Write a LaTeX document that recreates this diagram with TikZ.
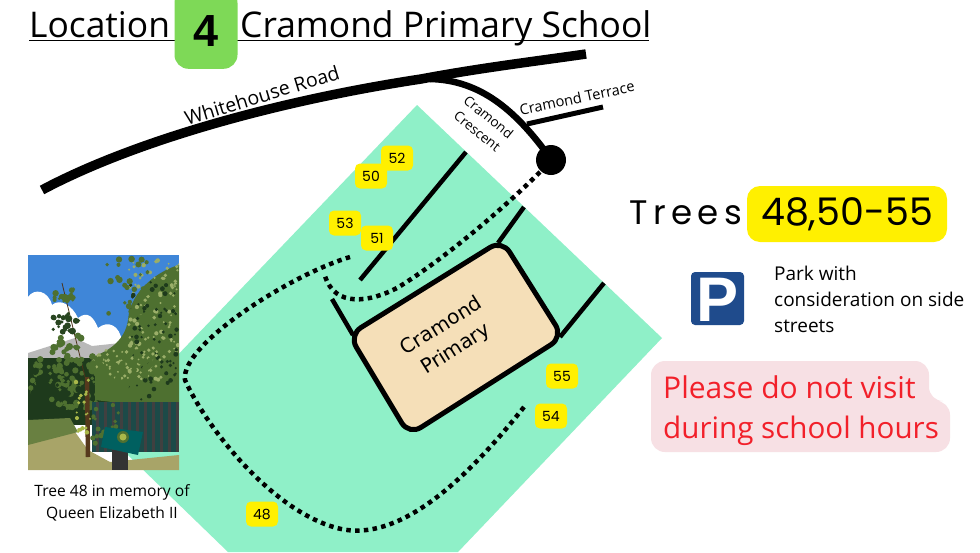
\documentclass[tikz,border=0pt]{standalone}
\usepackage{fontspec}
\setmainfont{Open Sans}
\newfontfamily\pop{Poppins}
\newfontfamily\djv{DejaVu Sans}
\newfontfamily\libs{Liberation Sans}
\definecolor{mint}{HTML}{8FF0C8}
\definecolor{ylw}{HTML}{FFF000}
\definecolor{grn}{HTML}{7ED957}
\definecolor{tan1}{HTML}{F5DFB8}
\definecolor{pinkb}{HTML}{F7E0E4}
\definecolor{redt}{HTML}{F2202A}
\definecolor{pblue}{HTML}{1F4B8C}
\definecolor{sky}{HTML}{3F86D8}
\definecolor{leafd}{HTML}{1E3A1C}
\definecolor{leafm}{HTML}{4E7030}
\definecolor{leafl}{HTML}{9AAE68}
\definecolor{leafy}{HTML}{A9B84A}
\definecolor{grass}{HTML}{A8A468}
\definecolor{fence}{HTML}{1C4A48}
\tikzset{
 road/.style={line width=#1,line cap=butt,line join=round,draw=black},
 wall/.style={line width=4.5pt,draw=black,line cap=butt},
 dots/.style={line width=4.5pt,draw=black,dash pattern=on 4.5pt off 4.3pt,line cap=butt},
 tag/.style={fill=ylw,rounded corners=5pt,minimum width=32pt,minimum height=25pt,inner sep=0pt,font=\pop\fontsize{14}{14}\selectfont},
 lbl/.style={inner sep=0pt,font=\fontsize{#1}{#1}\selectfont,text=black},
}
% n blobs of colour c and size s scattered over the box x y w h
\newcommand{\leafscatter}[7]{%
 \foreach \k in {1,...,#1}{%
  \pgfmathsetmacro{\bx}{#2+rnd*#4}%
  \pgfmathsetmacro{\by}{#3+rnd*#5}%
  \pgfmathsetmacro{\br}{#7*(0.6+0.8*rnd)}%
  \fill[#6] (\bx,\by) circle[radius=\br pt];
 }}
\begin{document}
\begin{tikzpicture}[x=1pt,y=-1pt]
\useasboundingbox (0,0) rectangle (980,552);
\fill[white] (0,0) rectangle (980,552);
% park
\fill[mint] (417,105) -- (662,338) -- (458,552) -- (228,552) -- (104,432) -- cycle;
% title
\node[lbl=35.4,anchor=base west] (t1) at (29,37) {Location};
\node[lbl=35.4,anchor=base west] (t2) at (240,37) {Cramond Primary School};
\draw[line width=1.8pt] (29,40.5) -- (649,40.5);
\node[fill=grn,rounded corners=14pt,minimum width=63pt,minimum height=80pt,inner sep=0,anchor=south] (four) at (206,69) {};
\node[inner sep=0,font=\libs\bfseries\fontsize{45}{45}\selectfont] (fourt) at (206,31) {4};
% roads
\draw[road=9.5pt] (42,190) .. controls (130,143) and (270,102) .. (421,79) .. controls (480,68) and (530,62) .. (586,54);
\draw[road=6.5pt] (430,79) .. controls (480,80) and (515,110) .. (548,155);
\draw[road=5pt] (527,124) -- (603,107);
\node[fill=black,circle,minimum size=30pt,inner sep=0] (end) at (551,160) {};
\node[lbl=19.5,rotate=17] (wr) at (262,95) {Whitehouse Road};
\node[lbl=14.6,rotate=12] (ct) at (577,98) {Cramond Terrace};
\node[rotate=-39,align=center,inner sep=0,font=\fontsize{13.5}{18}\selectfont] (cc) at (483,124) {Cramond\\Crescent};
% side walls
\draw[wall] (466,152) -- (360,280);
\draw[wall] (332,299) -- (353,335);
\draw[wall] (498,243) -- (524,207);
\draw[wall] (560,337) -- (604,283);
% building
\draw[fill=tan1,draw=black,line width=5pt,rounded corners=14pt] (349,335) -- (502,240) -- (563,337) -- (409,435) -- cycle;
\node[inner sep=0,rotate=32,align=center,font=\djv\fontsize{20}{27}\selectfont] (bld) at (449,338) {Cramond\\Primary};
% dotted paths
\draw[dots] (540,172) .. controls (500,212) and (440,262) .. (397,288) .. controls (370,302) and (335,308) .. (325,276);
\draw[dots] (350,257) .. controls (290,275) and (180,345) .. (185,380) .. controls (205,425) and (270,510) .. (337,528) .. controls (400,545) and (470,475) .. (524,407);
% tags
\node[tag] (t52) at (397,158) {52};
\node[tag] (t50) at (371,176) {50};
\node[tag] (t53) at (345,223) {53};
\node[tag] (t51) at (377,238) {51};
\node[tag] (t55) at (562,376) {55};
\node[tag] (t54) at (551,416) {54};
\node[tag] (t48) at (262,514) {48};
% photo
\begin{scope}
\clip (28,255) rectangle (179,470);
\pgfmathsetseed{17}
\fill[sky] (28,255) rectangle (179,360);
\fill[white] (28,355) -- (28,297) .. controls (34,288) and (48,290) .. (52,305) .. controls (60,298) and (72,305) .. (78,318) .. controls (88,310) and (94,318) .. (98,328) .. controls (108,320) and (120,325) .. (122,342) -- (122,355) -- cycle;
\fill[gray!55] (28,353) -- (75,338) -- (92,346) -- (130,342) -- (130,362) -- (28,362) -- cycle;
\fill[leafd] (28,358) rectangle (179,425);
% right tree
\fill[leafm] (179,265) .. controls (160,270) and (130,290) .. (128,320) .. controls (125,340) and (110,350) .. (95,356) -- (95,400) -- (179,410) -- cycle;
\leafscatter{90}{128}{258}{51}{100}{leafl}{1.6}
\leafscatter{70}{128}{280}{51}{120}{leafd}{1.8}
\leafscatter{30}{100}{256}{50}{60}{leafm}{2.5}
\leafscatter{60}{92}{350}{70}{30}{leafl}{1.5}
\leafscatter{40}{92}{350}{70}{45}{leafm}{2.5}
% hedge left
\leafscatter{60}{28}{358}{70}{50}{leafm}{2.6}
\leafscatter{25}{28}{370}{60}{40}{leafd}{2.5}
% fence
\fill[fence] (92,402) rectangle (179,452);
\foreach \xb in {96,104,...,176}{\fill[black!75] (\xb,402) rectangle ++(3,50);}
\leafscatter{25}{92}{405}{30}{40}{leafm}{2}
% grass
\fill[grass] (28,430) -- (70,425) -- (88,450) -- (110,462) -- (179,455) -- (179,470) -- (28,470) -- cycle;
\fill[leafm!70!grass] (28,420) -- (70,418) -- (78,432) -- (28,445) -- cycle;
% young tree
\draw[black!60!brown,line width=.8pt] (62,283) -- (85,377);
\draw[black!55!brown,line width=4.5pt] (87,377) -- (88,457);
\leafscatter{18}{52}{285}{22}{16}{leafm}{2.4}
\leafscatter{22}{50}{312}{30}{22}{leafd!80!leafm}{2.6}
\leafscatter{35}{52}{335}{32}{48}{leafm}{2.6}
\leafscatter{20}{76}{375}{14}{60}{leafy}{1.7}
% sign
\fill[black!80] (112,450) rectangle (128,470);
\fill[teal!75!black] (105,427) -- (143,432) -- (138,455) -- (101,447) -- cycle;
\fill[leafm] (123,437) circle[radius=6pt];
\fill[leafy] (123,437) circle[radius=3.5pt];
\end{scope}
\node[align=center,inner sep=0,font=\fontsize{15.6}{22}\selectfont,anchor=north] (cap) at (112,484) {Tree 48 in memory of\\Queen Elizabeth II};
% right panel
\node[anchor=base west,inner sep=0,font=\pop\fontsize{34}{34}\selectfont] (tr) at (629,224.5) {T\kern5.5pt r\kern5.5pt e\kern5.5pt e\kern5.5pt s};
\node[fill=ylw,rounded corners=13pt,minimum width=200pt,minimum height=56pt,inner sep=0,font=\pop\fontsize{38}{38}\selectfont] (nums) at (847,214) {\raisebox{-2pt}{48,50-55}};
\node[fill=pblue,rounded corners=4pt,minimum size=53pt,inner sep=0] (park) at (717.5,298.5) {};
\node[inner sep=0,text=white,font=\libs\bfseries\fontsize{63}{63}\selectfont] (pp) at (718,299.5) {P};
\node[align=left,anchor=north west,inner sep=0,font=\fontsize{19}{25.7}\selectfont] (pk) at (774,266) {Park with\\consideration on side\\streets};
\fill[pinkb,rounded corners=14pt] (651,361) -- (929,361) -- (929,401) -- (950,401) -- (950,452) -- (651,452) -- cycle;
\node[anchor=base west,inner sep=0,text=redt,font=\fontsize{30}{30}\selectfont] (p1) at (663,398) {Please do not visit};
\node[anchor=base west,inner sep=0,text=redt,font=\fontsize{29.6}{30}\selectfont] (p2) at (663,438) {during school hours};
\end{tikzpicture}
\end{document}
